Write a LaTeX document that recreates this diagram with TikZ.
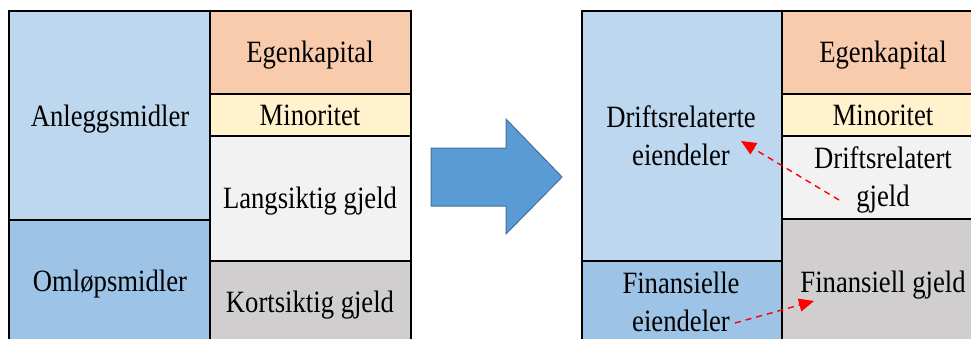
\documentclass[tikz,border=0pt]{standalone}
\usepackage{fontspec}
\usepackage{graphicx}
\setmainfont{Liberation Serif}
\usetikzlibrary{arrows.meta}
\definecolor{fixblue}{HTML}{BDD7EE}
\definecolor{curblue}{HTML}{9DC3E6}
\definecolor{eqorange}{HTML}{F8CBAD}
\definecolor{minyellow}{HTML}{FFF2CC}
\definecolor{ltgray}{HTML}{F2F2F2}
\definecolor{stgray}{HTML}{D0CECE}
\definecolor{arrowfill}{HTML}{5B9BD5}
\definecolor{arrowedge}{HTML}{41719C}
% narrow set text, one or more centred lines
\newcommand{\narrowtext}[1]{\scalebox{0.86}[1]{\begin{tabular}{@{}c@{}}#1\end{tabular}}}
\tikzset{
  cell/.style={draw=black, line width=1.4pt},
  lbl/.style={font=\fontsize{31}{38}\selectfont, align=center, inner sep=0pt,
              text=black, yshift=-3pt},
  flow/.style={red, dashed, dash pattern=on 6pt off 5pt, line width=1.4pt,
               -{Triangle[length=15pt,width=13pt]}}
}
\begin{document}
\begin{tikzpicture}[x=1pt,y=-1pt]
\useasboundingbox (0,0) rectangle (971,338);
% left balance sheet
\draw[cell, fill=fixblue]   (9,11)   rectangle (210,220);
\draw[cell, fill=curblue]   (9,220)  rectangle (210,345);
\draw[cell, fill=eqorange]  (210,11) rectangle (411,94);
\draw[cell, fill=minyellow] (210,94) rectangle (411,136);
\draw[cell, fill=ltgray]    (210,136) rectangle (411,261);
\draw[cell, fill=stgray]    (210,261) rectangle (411,345);
\node[lbl] (am) at (110,116) {\narrowtext{Anleggsmidler}};
\node[lbl] (om) at (110,281) {\narrowtext{Omløpsmidler}};
\node[lbl] (ek1) at (310,52) {\narrowtext{Egenkapital}};
\node[lbl] (mi1) at (310,115) {\narrowtext{Minoritet}};
\node[lbl] (lg) at (310,198) {\narrowtext{Langsiktig gjeld}};
\node[lbl] (kg) at (310,302) {\narrowtext{Kortsiktig gjeld}};
% block arrow
\draw[fill=arrowfill, draw=arrowedge, line width=1pt]
  (431,148) -- (506,148) -- (506,119) -- (562,177) -- (506,234) -- (506,206) -- (431,206) -- cycle;
% right balance sheet
\draw[cell, fill=fixblue]   (582,11)  rectangle (782,261);
\draw[cell, fill=curblue]   (582,261) rectangle (782,345);
\draw[cell, fill=eqorange]  (782,11)  rectangle (984,94);
\draw[cell, fill=minyellow] (782,94)  rectangle (984,136);
\draw[cell, fill=ltgray]    (782,136) rectangle (984,219);
\draw[cell, fill=stgray]    (782,219) rectangle (984,345);
\node[lbl] (de) at (681,136) {\narrowtext{Driftsrelaterte\\eiendeler}};
\node[lbl] (fe) at (681,302) {\narrowtext{Finansielle\\eiendeler}};
\node[lbl] (ek2) at (883,52) {\narrowtext{Egenkapital}};
\node[lbl] (mi2) at (883,115) {\narrowtext{Minoritet}};
\node[lbl] (dg) at (883,177) {\narrowtext{Driftsrelatert\\gjeld}};
\node[lbl] (fg) at (883,282) {\narrowtext{Finansiell gjeld}};
% netting connectors
\coordinate (dgstart) at (839,200);
\coordinate (detip) at (741,141);
\coordinate (festart) at (735,323);
\coordinate (fgtip) at (814,301);
\draw[flow] (dgstart) -- (detip);
\draw[flow] (festart) -- (fgtip);
\end{tikzpicture}
\end{document}
